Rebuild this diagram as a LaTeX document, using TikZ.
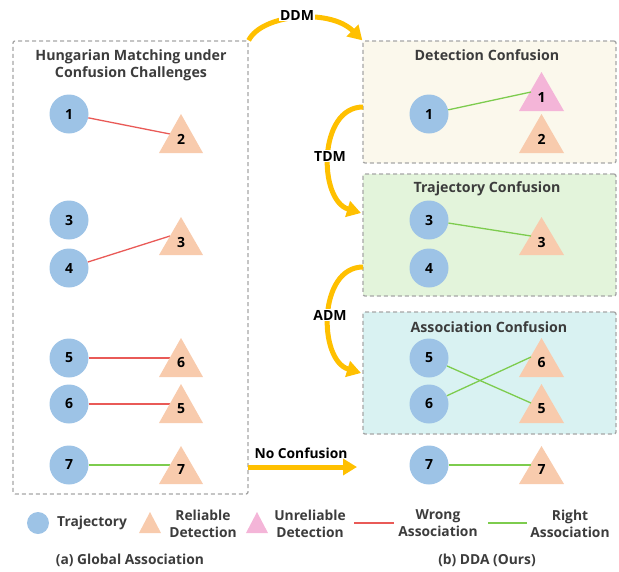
\documentclass[tikz,border=0pt]{standalone}
\usepackage{fontspec}
\setmainfont{Open Sans}
\usetikzlibrary{arrows.meta}
\definecolor{trajc}{HTML}{9DC3E6}
\definecolor{relc}{HTML}{F8CBAD}
\definecolor{unrc}{HTML}{F4B5D8}
\definecolor{wrongc}{HTML}{E95A57}
\definecolor{rightc}{HTML}{7DCC4E}
\definecolor{goldc}{HTML}{FFC000}
\definecolor{dashc}{HTML}{A6A6A6}
\definecolor{txtc}{HTML}{3C3C3C}
\definecolor{boxa}{HTML}{FBF8EC}
\definecolor{boxb}{HTML}{E3F4DB}
\definecolor{boxc}{HTML}{D9F2F2}
\tikzset{
  traj/.style={circle,fill=trajc,minimum size=39pt,inner sep=0pt,font=\fontsize{14}{16}\selectfont\bfseries},
  num/.style={inner sep=0pt,font=\fontsize{14}{16}\selectfont\bfseries},
  ttl/.style={inner sep=0pt,align=center,text=txtc,font=\fontsize{14.2}{17}\selectfont\bfseries},
  lg/.style={inner sep=0pt,align=center,text=txtc,font=\fontsize{13.8}{17}\selectfont\bfseries},
  box/.style={draw=dashc,dash pattern=on 4pt off 3pt,line width=1.3pt,rounded corners=2pt,inner sep=0pt},
  wrong/.style={draw=wrongc,line width=1.3pt},
  right/.style={draw=rightc,line width=1.3pt},
  gold/.style={draw=goldc,line width=5pt,-{Triangle[width=16pt,length=14pt]}},
  glab/.style={fill=white,inner sep=1pt,font=\fontsize{14}{16}\selectfont\bfseries},
}
\begin{document}
\begin{tikzpicture}[x=1pt,y=-1pt]
\useasboundingbox (0,0) rectangle (619,571);
% boxes
\node[box,minimum width=235pt,minimum height=453pt] (L) at (130.5,267.5) {};
\node[box,fill=boxa,minimum width=253pt,minimum height=122pt] (R1) at (489.5,102) {};
\node[box,fill=boxb,minimum width=253pt,minimum height=122pt] (R2) at (489.5,235) {};
\node[box,fill=boxc,minimum width=253pt,minimum height=122pt] (R3) at (489.5,373) {};
% titles
\node[ttl] (tl) at (131,65.5) {Hungarian Matching under\\Confusion Challenges};
\node[ttl] (t1) at (487,55) {Detection Confusion};
\node[ttl] (t2) at (487,189) {Trajectory Confusion};
\node[ttl] (t3) at (489,327) {Association Confusion};
% left lines coordinates
\coordinate (ea) at (170,134);
\coordinate (eb) at (170,236);
\coordinate (ec) at (170,358);
\coordinate (ed) at (170,404);
\coordinate (ee) at (170,465);
% left column
\node[traj] (a1) at (69,114) {1};
\node[traj] (a3) at (69,220) {3};
\node[traj] (a4) at (69,268) {4};
\node[traj] (a5) at (69,358) {5};
\node[traj] (a6) at (69,404) {6};
\node[traj] (a7) at (69,465) {7};
\draw[wrong] (a1) -- (ea);
\draw[wrong] (a4) -- (eb);
\draw[wrong] (a5) -- (ec);
\draw[wrong] (a6) -- (ed);
\draw[right] (a7) -- (ee);
\foreach \c/\t/\b in {181/114/153,181/217/255,181/338/377,181/384/423,181/446/484}{
  \fill[relc] (\c,\t) -- (\c+22,\b) -- (\c-22,\b) -- cycle;}
\node[num] (da2) at (181,139) {2};
\node[num] (da3) at (181,242) {3};
\node[num] (da6) at (181,363) {6};
\node[num] (da5) at (181,409) {5};
\node[num] (da7) at (181,470) {7};
% right column
\coordinate (fa) at (531,92);
\coordinate (fb) at (531,236);
\coordinate (fc) at (531,403);
\coordinate (fd) at (531,357);
\coordinate (fe) at (531,465);
\fill[unrc] (541.5,72) -- (564,111) -- (519,111) -- cycle;
\foreach \c/\t/\b in {541.5/114/153,541.5/217/255,541.5/338/377,541.5/384/423,541.5/446/484}{
  \fill[relc] (\c,\t) -- (\c+22.5,\b) -- (\c-22.5,\b) -- cycle;}
\node[traj] (b1) at (429,114) {1};
\node[traj] (b3) at (429,220) {3};
\node[traj] (b4) at (429,268) {4};
\node[traj] (b5) at (429,358) {5};
\node[traj] (b6) at (429,404) {6};
\node[traj] (b7) at (429,465) {7};
\draw[right] (b1) -- (fa);
\draw[right] (b3) -- (fb);
\draw[right] (b5) -- (fc);
\draw[right] (b6) -- (fd);
\draw[right] (b7) -- (fe);
\node[num] (du1) at (541.5,97) {1};
\node[num] (db2) at (541.5,139) {2};
\node[num] (db3) at (541.5,242) {3};
\node[num] (db6) at (541.5,363) {6};
\node[num] (db5) at (541.5,409) {5};
\node[num] (db7) at (541.5,470) {7};
% gold arrows
\draw[gold] (L.north east) .. controls (262,14) and (330,8) .. (R1.north west);
\node[glab] (ddm) at (297,15) {DDM};
\coordinate (ts) at (363,107);
\coordinate (te) at (361,213);
\draw[gold] (ts) .. controls (318,107) and (318,200) .. (te);
\node[glab] (tdm) at (330,156) {TDM};
\coordinate (as) at (363,267);
\coordinate (ae) at (361,373);
\draw[gold] (as) .. controls (318,267) and (318,360) .. (ae);
\node[glab] (adm) at (330,315) {ADM};
\coordinate (ns) at (248,467);
\coordinate (ne) at (357,467);
\draw[gold] (ns) -- (ne);
\node[lg,text=black] (nc) at (301,453) {No Confusion};
% legend
\node[circle,fill=trajc,minimum size=22pt,inner sep=0pt] (lgc) at (38,523) {};
\node[lg,anchor=west] (lgt) at (57,523) {Trajectory};
\fill[relc] (150,512) -- (161,533) -- (139,533) -- cycle;
\node[lg] (lgr) at (203,523.5) {Reliable\\Detection};
\fill[unrc] (257,512) -- (268,533) -- (246,533) -- cycle;
\node[lg] (lgu) at (310,523.5) {Unreliable\\Detection};
\coordinate (w1) at (354,523);
\coordinate (w2) at (394,523);
\draw[wrong] (w1) -- (w2);
\node[lg] (lgw) at (438,523.5) {Wrong\\Association};
\coordinate (r1) at (488,523);
\coordinate (r2) at (527,523);
\draw[right] (r1) -- (r2);
\node[lg] (lgg) at (570,523.5) {Right\\Association};
\node[lg] (capa) at (130,560) {(a) Global Association};
\node[lg] (capb) at (487,560) {(b) DDA (Ours)};
\end{tikzpicture}
\end{document}
